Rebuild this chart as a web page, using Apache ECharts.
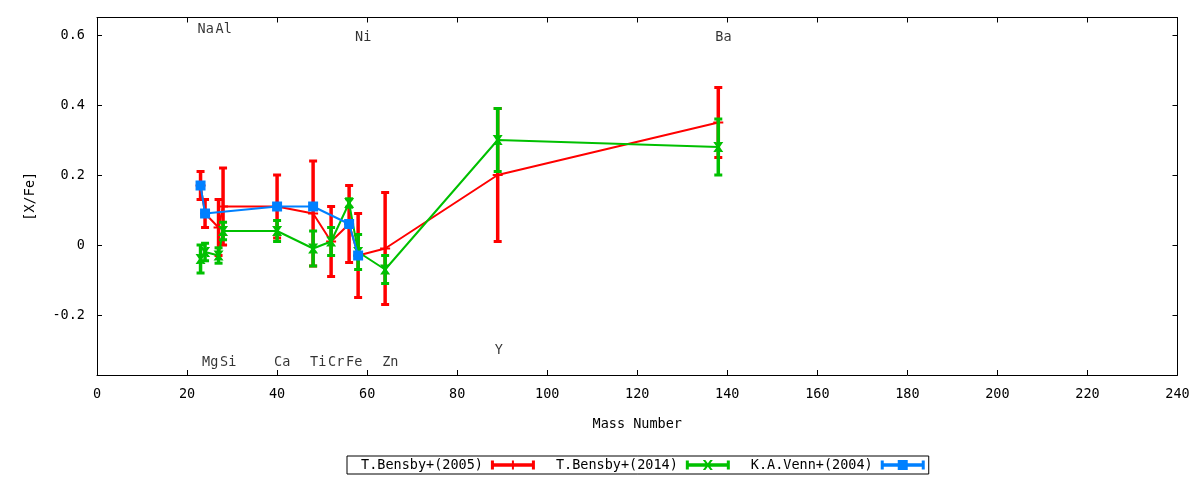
<!DOCTYPE html>
<html><head><meta charset="utf-8">
<script src="https://cdn.jsdelivr.net/npm/echarts@6/dist/echarts.min.js"></script>
<style>html,body{margin:0;padding:0;background:#fff}#c{width:1200px;height:480px}</style>
</head><body><div id="c"></div>
<script>
// ---- data ----
const massNumbers = [23, 24, 27, 28, 40, 48, 52, 56, 58, 64, 89, 138]; // Na Mg Al Si Ca Ti Cr Fe Ni Zn Y Ba
const bensby2005Values = [0.17, 0.09, 0.05, 0.11, 0.11, 0.09, 0.01, 0.06, -0.03, -0.01, 0.20, 0.35];
const bensby2005Errors = [0.04, 0.04, 0.08, 0.11, 0.09, 0.15, 0.10, 0.11, 0.12, 0.16, 0.19, 0.10];
const bensby2014Values = [-0.04, -0.02, -0.03, 0.04, 0.04, -0.01, 0.01, 0.12, -0.02, -0.07, 0.30, 0.28];
const bensby2014Errors = [0.04, 0.025, 0.022, 0.025, 0.03, 0.05, 0.04, 0.012, 0.05, 0.04, 0.09, 0.08];
const vennMass = [23, 24, 40, 48, 56, 58];
const vennValues = [0.17, 0.09, 0.11, 0.11, 0.06, -0.03];
const vennErrors = [0, 0, 0, 0, 0, 0];
const labelNames = ['Na', 'Al', 'Ni', 'Ba', 'Mg', 'Si', 'Ca', 'Ti', 'Cr', 'Fe', 'Zn', 'Y'];
const labelMass  = [23, 27, 58, 138, 24, 28, 40, 48, 52, 56, 64, 89];
const labelY     = [0.617, 0.617, 0.593, 0.593, -0.337, -0.337, -0.337, -0.337, -0.337, -0.337, -0.337, -0.30];
const yTicks = [-0.2, 0, 0.2, 0.4, 0.6];
const seriesNames = ['T.Bensby+(2005)', 'T.Bensby+(2014)', 'K.A.Venn+(2004)'];

const FONT = 'DejaVu Sans Mono';
const FS = 13.5;
const RED = '#ff0000', GREEN = '#00c000', BLUE = '#0080ff';

function pts(xs, vs) { return xs.map((x, i) => [x, vs[i]]); }
function bars(xs, vs, es) { return xs.map((x, i) => [x, vs[i] - es[i], vs[i] + es[i]]); }

function errRender(color) {
  return function (params, api) {
    const x = api.value(0), lo = api.value(1), hi = api.value(2);
    const a = api.coord([x, lo]), b = api.coord([x, hi]);
    const hw = 4;
    const cap = { stroke: color, lineWidth: 3 };
    return { type: 'group', children: [
      { type: 'line', shape: { x1: a[0], y1: a[1], x2: b[0], y2: b[1] }, style: { stroke: color, lineWidth: 3.5 } },
      { type: 'line', shape: { x1: a[0] - hw, y1: a[1], x2: a[0] + hw, y2: a[1] }, style: cap },
      { type: 'line', shape: { x1: b[0] - hw, y1: b[1], x2: b[0] + hw, y2: b[1] }, style: cap }
    ]};
  };
}

const PLUS = 'path://M4,0H6V4H10V6H6V10H4V6H0V4H4Z';
const CROSS = 'path://M0,0H3L10,10H7Z M7,0H10L3,10H0Z';
const capsLine = 'M0,0.5H3V9.5H0Z M41,0.5H44V9.5H41Z M3,3.2H41V6.8H3Z';
const ICON_RED = 'path://' + capsLine + ' M21,0.5H23V9.5H21Z';
const ICON_GREEN = 'path://' + capsLine + ' M17,0H19.5L27,10H24.5Z M24.5,0H27L19.5,10H17Z';
const ICON_BLUE = 'path://' + capsLine + ' M17,0H27V10H17Z';

function errSeries(name, data, color, z) {
  return { type: 'custom', name: name + ' err', data, renderItem: errRender(color),
    encode: { x: 0, y: [1, 2] }, z, silent: true, animation: false };
}
function lineSeries(name, data, color, symbol, size, z) {
  return { type: 'line', name, data, z, symbol, symbolSize: size, showAllSymbol: true,
    lineStyle: { color, width: 2 }, itemStyle: { color }, animation: false, silent: true };
}

const axisText = { fontFamily: FONT, fontSize: FS, color: '#000' };
const chart = echarts.init(document.getElementById('c'), null, { renderer: 'canvas' });
chart.setOption({
  backgroundColor: '#fff',
  animation: false,
  grid: { left: 97, right: 22.5, top: 17.5, bottom: 105, outerBoundsMode: 'none' },
  xAxis: [
    { type: 'value', min: 0, max: 240, interval: 20, position: 'bottom',
      name: 'Mass Number', nameLocation: 'middle', nameGap: 42, nameTextStyle: axisText,
      axisLine: { show: true, onZero: false, lineStyle: { color: '#000', width: 1 } },
      axisTick: { show: true, inside: true, length: 5, lineStyle: { color: '#000' } },
      axisLabel: Object.assign({ margin: 12 }, axisText), splitLine: { show: false } },
    { type: 'value', min: 0, max: 240, interval: 20, position: 'top',
      axisLine: { show: true, onZero: false, lineStyle: { color: '#000', width: 1 } },
      axisTick: { show: true, inside: true, length: 5, lineStyle: { color: '#000' } },
      axisLabel: { show: false }, splitLine: { show: false } }
  ],
  yAxis: [
    { type: 'value', min: -0.3714, max: 0.65, position: 'left',
      name: '[X/Fe]', nameLocation: 'middle', nameGap: 60, nameRotate: 90, nameTextStyle: axisText,
      axisLine: { show: true, onZero: false, lineStyle: { color: '#000', width: 1 } },
      axisTick: { show: true, inside: true, length: 5, customValues: yTicks, lineStyle: { color: '#000' } },
      axisLabel: Object.assign({ margin: 12, customValues: yTicks,
        formatter: v => (Math.abs(v) < 1e-9 ? '0' : (Math.round(v * 10) / 10).toString()) }, axisText),
      splitLine: { show: false } },
    { type: 'value', min: -0.3714, max: 0.65, position: 'right',
      axisLine: { show: true, onZero: false, lineStyle: { color: '#000', width: 1 } },
      axisTick: { show: true, inside: true, length: 5, customValues: yTicks, lineStyle: { color: '#000' } },
      axisLabel: { show: false }, splitLine: { show: false } }
  ],
  legend: {
    left: 347, top: 456, orient: 'horizontal', align: 'right',
    itemWidth: 44, itemHeight: 10, itemGap: 21,
    padding: [2, 4, 2, 14], borderColor: '#000', borderWidth: 1, borderRadius: 0,
    textStyle: { fontFamily: FONT, fontSize: FS, color: '#000', padding: [0, 3, 0, 0] },
    selectedMode: false,
    data: [
      { name: seriesNames[0], icon: ICON_RED, itemStyle: { color: RED } },
      { name: seriesNames[1], icon: ICON_GREEN, itemStyle: { color: GREEN } },
      { name: seriesNames[2], icon: ICON_BLUE, itemStyle: { color: BLUE } }
    ]
  },
  series: [
    errSeries(seriesNames[0], bars(massNumbers, bensby2005Values, bensby2005Errors), RED, 2),
    lineSeries(seriesNames[0], pts(massNumbers, bensby2005Values), RED, PLUS, 10, 3),
    errSeries(seriesNames[1], bars(massNumbers, bensby2014Values, bensby2014Errors), GREEN, 4),
    lineSeries(seriesNames[1], pts(massNumbers, bensby2014Values), GREEN, CROSS, 10, 5),
    errSeries(seriesNames[2], bars(vennMass, vennValues, vennErrors), BLUE, 6),
    lineSeries(seriesNames[2], pts(vennMass, vennValues), BLUE, 'rect', 10, 7),
    { type: 'scatter', name: 'labels', symbolSize: 0, z: 8, silent: true, animation: false,
      data: labelNames.map((n, i) => [labelMass[i], labelY[i], n]),
      label: { show: true, position: 'inside', align: 'left', verticalAlign: 'middle', offset: [-3, 0],
        formatter: p => p.data[2], fontFamily: FONT, fontSize: FS, color: '#000' } }
  ]
});
</script></body></html>
